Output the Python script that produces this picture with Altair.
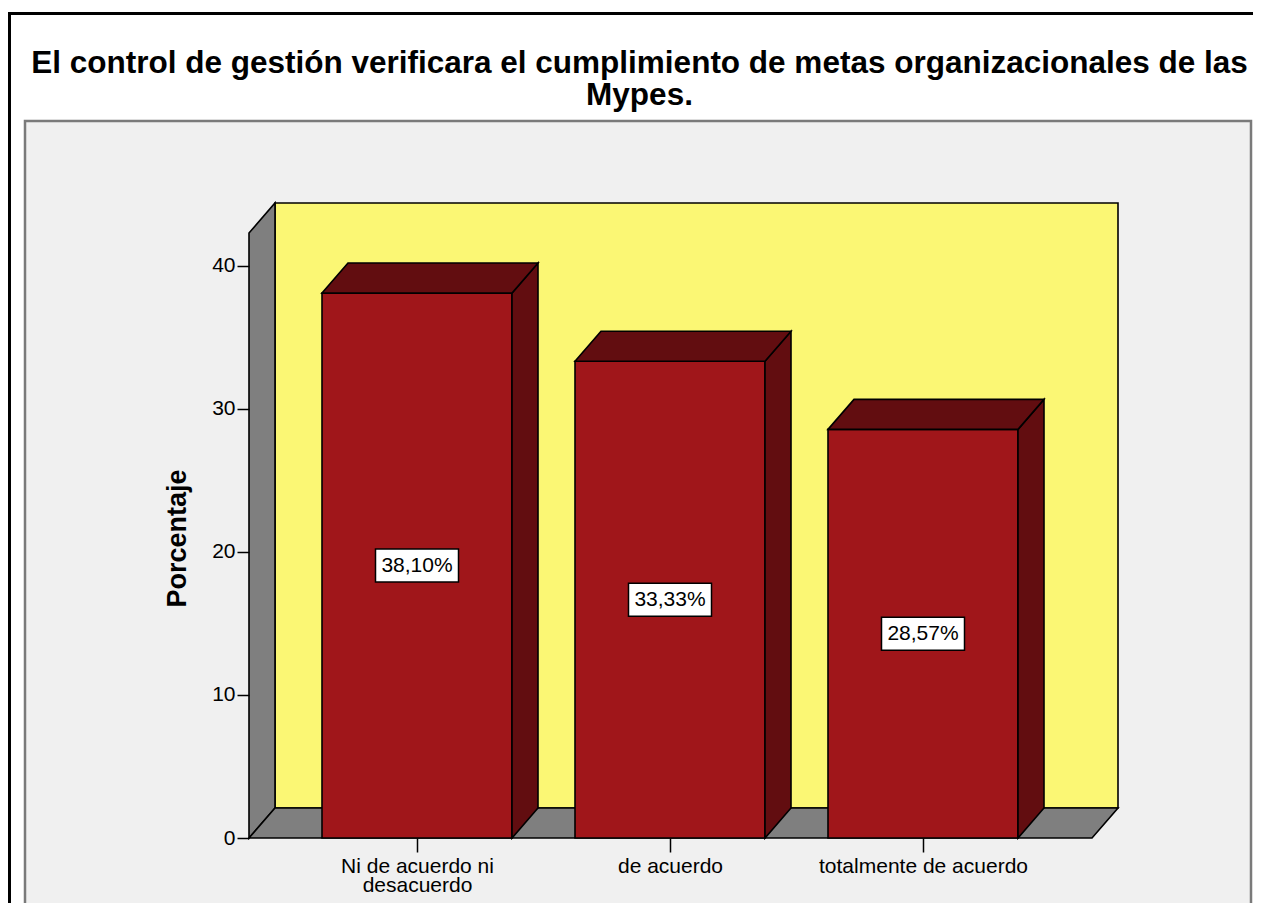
import json
import altair as alt
import pandas as pd

# ---------------- data ----------------
categories = ["Ni de acuerdo ni desacuerdo", "de acuerdo", "totalmente de acuerdo"]
category_lines = [["Ni de acuerdo ni", "desacuerdo"], ["de acuerdo"], ["totalmente de acuerdo"]]
percentages = [38.10, 33.33, 28.57]
y_ticks = [0, 10, 20, 30, 40]
title_lines = [
    "El control de gestión verificara el cumplimiento de metas organizacionales de las",
    "Mypes.",
]
y_title = "Porcentaje"

# ---------------- layout constants ----------------
STEP_PX = 253.0      # pixels per category step
UNIT_PX = 14.3       # pixels per percent
positions = [i + 1 for i in range(len(categories))]
HALF_BAR = 95 / STEP_PX
DX = 26 / STEP_PX
DY = 30 / UNIT_PX
X_LO = 1 - 168 / STEP_PX
X_HI = len(categories) + 169 / STEP_PX
Y_HI = 42.3
X_MAX = X_HI + DX
Y_MAX = Y_HI + DY
W = round((X_MAX - X_LO) * STEP_PX)
H = round(Y_MAX * UNIT_PX)
BOX_HW = 41.5 / STEP_PX
BOX_HH = 16.5 / UNIT_PX

PAD_L, PAD_T = 241, 195
TOTAL_W, TOTAL_H = 1245, 895

FONT = "Liberation Sans"
RED = "#a0161a"
DARK = "#620d10"
YELLOW = "#fbf774"
GRAY = "#7f7f7f"

labels_fmt = [f"{v:.2f}".replace(".", ",") + "%" for v in percentages]

bars = pd.DataFrame({
    "cat": categories,
    "x": [p - HALF_BAR for p in positions],
    "x2": [p + HALF_BAR for p in positions],
    "y": [0.0] * len(percentages),
    "y2": percentages,
})
boxes = pd.DataFrame({
    "x": [p - BOX_HW for p in positions],
    "x2": [p + BOX_HW for p in positions],
    "y": [v / 2 - BOX_HH for v in percentages],
    "y2": [v / 2 + BOX_HH for v in percentages],
})
texts = pd.DataFrame({
    "x": positions,
    "y": [v / 2 for v in percentages],
    "label": labels_fmt,
})

side_faces, top_faces = [], []
for p, v in zip(positions, percentages):
    x0, x1 = p - HALF_BAR, p + HALF_BAR
    side_faces.append(pd.DataFrame({
        "x": [x1, x1 + DX], "y": [v, v + DY], "y2": [0.0, DY]}))
    top_faces.append(pd.DataFrame({
        "x": [x0, x0 + DX, x1, x1 + DX],
        "y": [v, v + DY, v + DY, v + DY],
        "y2": [v, v, v, v + DY]}))

back_wall = pd.DataFrame({"x": [X_LO + DX], "x2": [X_MAX], "y": [DY], "y2": [Y_MAX]})
left_wall = pd.DataFrame({"x": [X_LO, X_LO + DX], "y": [Y_HI, Y_MAX], "y2": [0.0, DY]})
floor = pd.DataFrame({
    "x": [X_LO, X_LO + DX, X_HI, X_MAX],
    "y": [0.0, DY, DY, DY],
    "y2": [0.0, 0.0, 0.0, DY],
})
dummy = pd.DataFrame({"a": [0]})

# ---------------- scales / axes ----------------
label_expr = ""
for p, lines in zip(positions, category_lines):
    label_expr += f"datum.value == {p} ? {json.dumps(lines, ensure_ascii=False)} : "
label_expr += "''"

x_axis = alt.Axis(
    values=positions, labelExpr=label_expr, title=None, domain=False, grid=False,
    tickSize=14, tickColor="black", tickWidth=1.5, labelFontSize=21, labelColor="black",
    labelLineHeight=19, labelPadding=3, labelFont=FONT, labelLimit=0, zindex=2,
)
y_axis = alt.Axis(
    values=y_ticks, title=y_title, domain=False, grid=False,
    tickSize=12, tickColor="black", tickWidth=1.5, labelFontSize=21, labelColor="black",
    labelPadding=2, labelFont=FONT, titleFont=FONT, titleFontSize=27, titleFontWeight="bold",
    titleColor="black", titleX=-72, titleY=335, titleAngle=270, titleAlign="center",
    titleBaseline="middle", zindex=2,
)
xs = alt.Scale(domain=[X_LO, X_MAX], nice=False, zero=False)
ys = alt.Scale(domain=[0, Y_MAX], nice=False, zero=False)


def X(f="x"):
    return alt.X(f"{f}:Q", scale=xs, axis=x_axis)


def Y(f="y"):
    return alt.Y(f"{f}:Q", scale=ys, axis=y_axis, stack=None)


OUT = 1.6

border = alt.Chart(dummy).mark_rect(fill="white", stroke="black", strokeWidth=3).encode(
    x=alt.value(9.5 - 8 - PAD_L), x2=alt.value(TOTAL_W + 40 - PAD_L),
    y=alt.value(13.5 - 8 - PAD_T), y2=alt.value(TOTAL_H + 40 - PAD_T),
)
panel = alt.Chart(dummy).mark_rect(fill="#f0f0f0", stroke="#7a7a7a", strokeWidth=2.5).encode(
    x=alt.value(25 - 8 - PAD_L), x2=alt.value(1251 - 8 - PAD_L),
    y=alt.value(121 - 8 - PAD_T), y2=alt.value(TOTAL_H + 40 - PAD_T),
)

back = alt.Chart(back_wall).mark_rect(fill=YELLOW, stroke="black", strokeWidth=OUT).encode(
    x=X(), x2="x2:Q", y=Y(), y2="y2:Q")
lwall = alt.Chart(left_wall).mark_area(fill=GRAY, stroke="black", strokeWidth=OUT).encode(
    x=X(), y=Y(), y2="y2:Q")
flr = alt.Chart(floor).mark_area(fill=GRAY, stroke="black", strokeWidth=OUT).encode(
    x=X(), y=Y(), y2="y2:Q")
front = alt.Chart(bars).mark_rect(fill=RED, stroke="black", strokeWidth=OUT).encode(
    x=X(), x2="x2:Q", y=Y(), y2="y2:Q")
faces = []
for df in side_faces + top_faces:
    faces.append(alt.Chart(df).mark_area(fill=DARK, stroke="black", strokeWidth=OUT).encode(
        x=X(), y=Y(), y2="y2:Q"))
box = alt.Chart(boxes).mark_rect(fill="white", stroke="black", strokeWidth=1.5).encode(
    x=X(), x2="x2:Q", y=Y(), y2="y2:Q")
txt = alt.Chart(texts).mark_text(font=FONT, fontSize=21, color="black", baseline="middle").encode(
    x=X(), y=Y(), text="label:N")

chart = alt.layer(border, panel, back, lwall, flr, front, *faces, box, txt).properties(
    width=W, height=H,
    title=alt.TitleParams(
        text=title_lines, font=FONT, fontSize=31.5, fontWeight="bold", color="black",
        anchor="middle", dx=-44, offset=-99, lineHeight=32,
    ),
    autosize=alt.AutoSizeParams(type="none"),
    padding={"left": PAD_L, "top": PAD_T, "right": TOTAL_W - PAD_L - W, "bottom": TOTAL_H - PAD_T - H},
).configure_view(stroke=None).configure(background="white")

chart.save("out.html", embed_options={"renderer": "svg", "actions": False})
